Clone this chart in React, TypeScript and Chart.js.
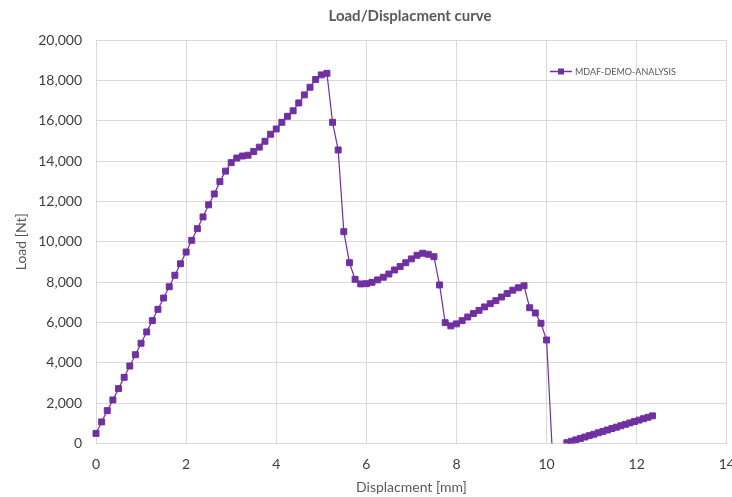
import React, { useEffect, useRef } from "react";
import { Chart, registerables } from "chart.js";

Chart.register(...registerables);

const TITLE = "Load/Displacment curve";
const SERIES_NAME = "MDAF-DEMO-ANALYSIS";
const X_TITLE = "Displacment [mm]";
const Y_TITLE = "Load [Nt]";
const X_TICKS = [0, 2, 4, 6, 8, 10, 12, 14];
const Y_TICKS = [0, 2000, 4000, 6000, 8000, 10000, 12000, 14000, 16000, 18000, 20000];

const displacement = [
  0, 0.125, 0.25, 0.375, 0.5, 0.625, 0.75, 0.875, 1.0, 1.125, 1.25, 1.375, 1.5, 1.625, 1.75, 1.875,
  2.0, 2.125, 2.25, 2.375, 2.5, 2.625, 2.75, 2.875, 3.0, 3.125, 3.25, 3.375, 3.5, 3.625, 3.75, 3.875,
  4.0, 4.125, 4.25, 4.375, 4.5, 4.625, 4.75, 4.875, 5.0, 5.125, 5.25, 5.375, 5.5, 5.625, 5.75, 5.875,
  6.0, 6.125, 6.25, 6.375, 6.5, 6.625, 6.75, 6.875, 7.0, 7.125, 7.25, 7.375, 7.5, 7.625, 7.75, 7.875,
  8.0, 8.125, 8.25, 8.375, 8.5, 8.625, 8.75, 8.875, 9.0, 9.125, 9.25, 9.375, 9.5, 9.625, 9.75, 9.875,
  10.0, 10.125, 10.3,
  10.45, 10.55, 10.65, 10.75, 10.85, 10.95, 11.05, 11.15, 11.25, 11.35, 11.45, 11.55, 11.65, 11.75,
  11.85, 11.95, 12.05, 12.15, 12.25, 12.35,
];

const load = [
  500, 1070, 1630, 2160, 2720, 3280, 3840, 4400, 4970, 5530, 6090, 6650, 7210, 7770, 8340, 8910,
  9490, 10070, 10650, 11230, 11830, 12370, 12980, 13500, 13920, 14150, 14250, 14290, 14470, 14690, 14980, 15330,
  15590, 15920, 16220, 16490, 16880, 17280, 17660, 18040, 18270, 18350, 15920, 14550, 10500, 8960, 8140, 7910,
  7920, 7990, 8110, 8240, 8400, 8600, 8770, 8960, 9150, 9330, 9430, 9380, 9260, 7860, 5990, 5830,
  5930, 6090, 6270, 6440, 6600, 6770, 6930, 7080, 7260, 7430, 7600, 7720, 7820, 6730, 6470, 5960,
  5130, -300, null,
  40, 110, 180, 250, 320, 390, 460, 530, 600, 670, 740, 810, 880, 950,
  1020, 1090, 1160, 1230, 1300, 1370,
];

const PURPLE = "#7030A0";
const GRID = "#d9d9d9";
const FONT = "Lato, 'Noto Sans', sans-serif";

const overlayPlugin = {
  id: "overlay",
  afterDraw(chart: any) {
    const { ctx } = chart;
    ctx.save();
    ctx.fillStyle = "#595959";
    ctx.font = `bold 15px ${FONT}`;
    ctx.textAlign = "center";
    ctx.textBaseline = "middle";
    ctx.fillText(TITLE, 410, 16);
    const ly = 71.5;
    const lx = 550;
    ctx.strokeStyle = PURPLE;
    ctx.lineWidth = 1.5;
    ctx.beginPath();
    ctx.moveTo(lx, ly);
    ctx.lineTo(lx + 22, ly);
    ctx.stroke();
    ctx.fillStyle = PURPLE;
    ctx.fillRect(lx + 8, ly - 3, 6, 6);
    ctx.fillStyle = "#595959";
    ctx.font = `9px ${FONT}`;
    ctx.textAlign = "left";
    ctx.fillText(SERIES_NAME, lx + 25, ly + 0.5);
    ctx.restore();
  },
};

export default function App() {
  const ref = useRef<HTMLCanvasElement>(null);
  useEffect(() => {
    if (!ref.current) return;
    const pts = displacement.map((x, i) => ({ x, y: load[i] }));
    const chart = new Chart(ref.current, {
      type: "line",
      data: {
        datasets: [
          {
            label: SERIES_NAME,
            data: pts as any,
            borderColor: PURPLE,
            backgroundColor: PURPLE,
            borderWidth: 1.2,
            pointStyle: "rect",
            pointRadius: 4.2,
            pointBorderWidth: 1,
            pointBackgroundColor: PURPLE,
            pointBorderColor: PURPLE,
            tension: 0,
            spanGaps: false,
            clip: { left: 6, top: 6, right: 6, bottom: 0 } as any,
          },
        ],
      },
      options: {
        responsive: false,
        animation: false,
        devicePixelRatio: 1,
        layout: { padding: { top: 40, right: 3, left: 0, bottom: 0 } },
        plugins: {
          legend: { display: false },
          title: { display: false },
          tooltip: { enabled: false },
        },
        scales: {
          x: {
            type: "linear",
            min: 0,
            max: 14,
            afterBuildTicks: (s: any) => {
              s.ticks = X_TICKS.map((v) => ({ value: v }));
            },
            afterFit: (s: any) => {
              s.height = 53.5;
              s.paddingLeft = 0;
              s.paddingRight = 0;
            },
            grid: { color: GRID, lineWidth: 1, drawTicks: false },
            border: { color: GRID, width: 1 },
            ticks: {
              padding: 13,
              color: "#404040",
              font: { family: FONT, size: 14 },
              maxRotation: 0,
              callback: (v: any) => String(v),
            },
            title: {
              display: true,
              text: X_TITLE,
              color: "#595959",
              font: { family: FONT, size: 14 },
              padding: { top: 0, bottom: 1 },
            },
          },
          y: {
            type: "linear",
            min: 0,
            max: 20000,
            afterBuildTicks: (s: any) => {
              s.ticks = Y_TICKS.map((v) => ({ value: v }));
            },
            afterFit: (s: any) => {
              s.width = 96;
            },
            grid: { color: GRID, lineWidth: 1, drawTicks: false },
            border: { color: GRID, width: 1 },
            ticks: {
              padding: 14,
              color: "#404040",
              font: { family: FONT, size: 14 },
              callback: (v: any) => Number(v).toLocaleString("en-US"),
            },
            title: {
              display: true,
              text: Y_TITLE,
              color: "#595959",
              font: { family: FONT, size: 14 },
              padding: { top: 13, bottom: 0 },
            },
          },
        },
      },
      plugins: [overlayPlugin],
    });
    return () => chart.destroy();
  }, []);
  return (
    <div style={{ position: "fixed", left: 0, top: 0, width: 732, height: 497, overflow: "hidden", background: "#fff" }}>
      <canvas ref={ref} width={732} height={497} style={{ display: "block", width: 732, height: 497 }} />
    </div>
  );
}
